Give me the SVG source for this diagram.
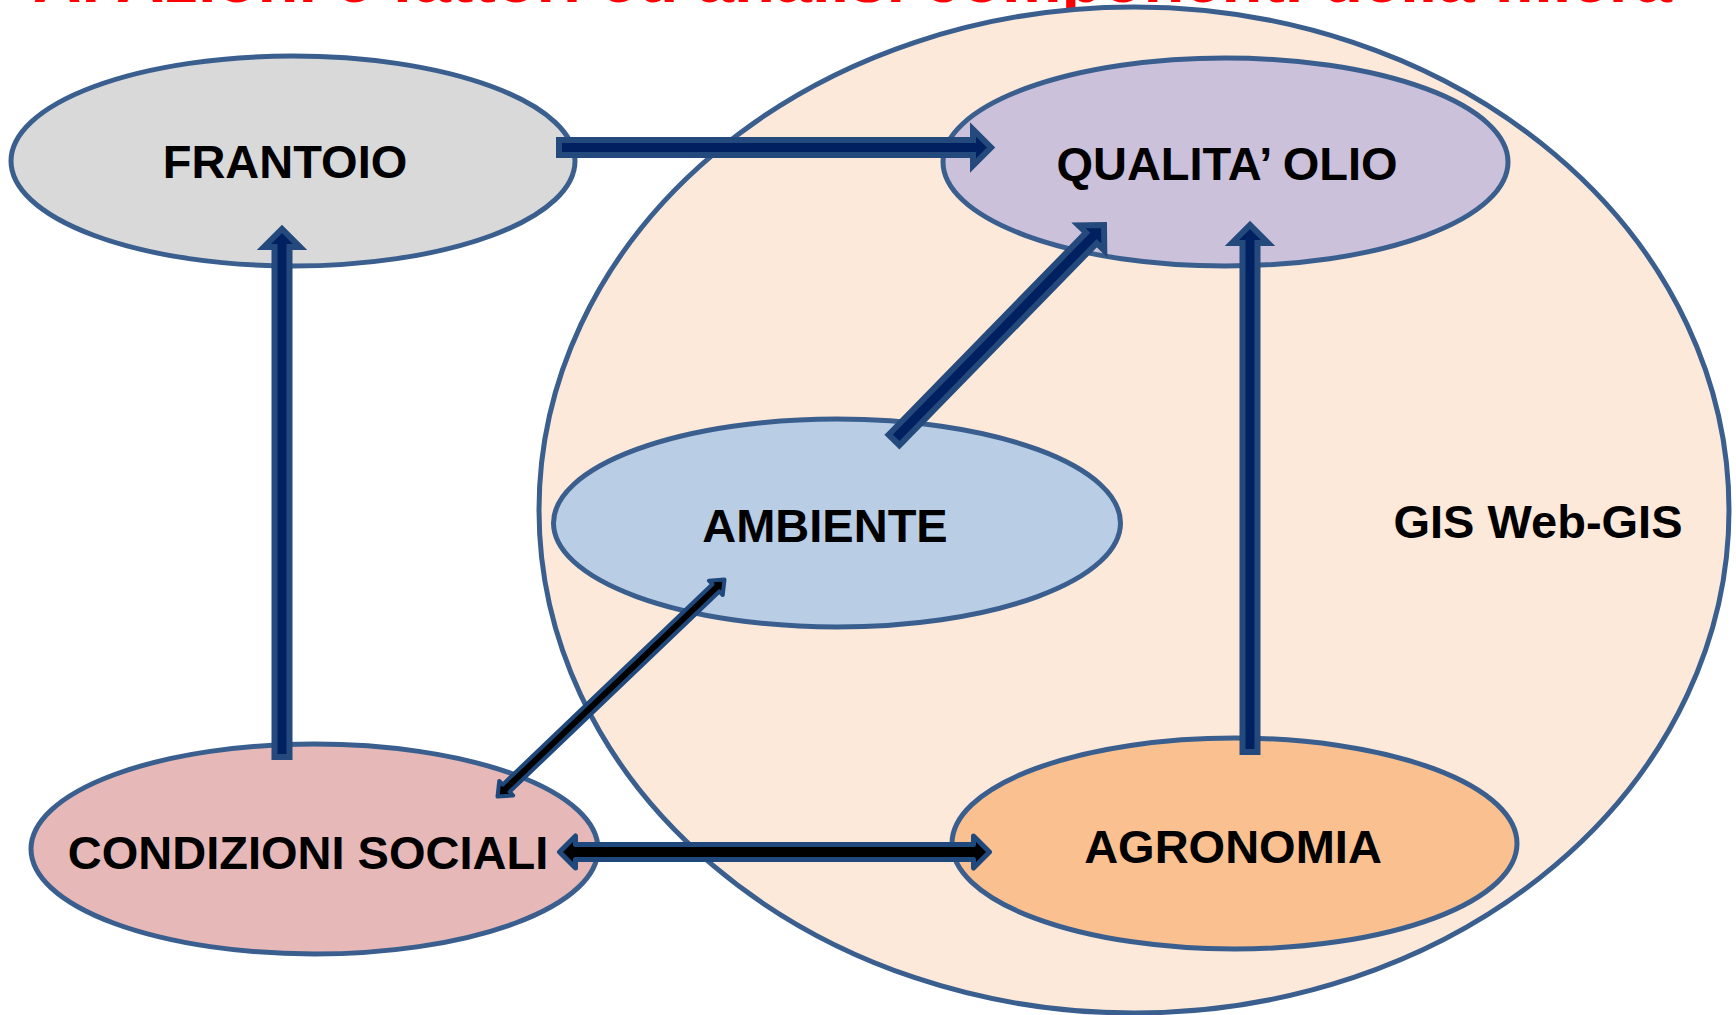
<svg xmlns="http://www.w3.org/2000/svg" width="1736" height="1015" viewBox="0 0 1736 1015">
<style>
.node{stroke:#3A5F8F;stroke-width:5}
.lbl{font-family:"Liberation Sans",Arial,sans-serif;font-weight:bold;font-size:47px;fill:#000;text-anchor:middle}
.blue{fill:#002060;stroke:#24497C;stroke-width:6;stroke-linejoin:miter}
.black{fill:#000;stroke:#1F497D;stroke-width:5;stroke-linejoin:round}
.black2{fill:#000;stroke:#1F497D;stroke-width:4;stroke-linejoin:round}
</style>
<rect width="1736" height="1015" fill="#FFFFFF"/>
<text x="33" y="2" textLength="1639" lengthAdjust="spacingAndGlyphs" style="font-family:'Liberation Sans',Arial,sans-serif;font-weight:bold;font-size:66px;fill:#FF0000">A. Azioni e fattori ed analisi componenti della filiera</text>
<g id="gis">
<ellipse cx="1134" cy="510" rx="595" ry="503" fill="#FDE9D9" class="node"/>
<text class="lbl" x="1538" y="538">GIS Web-GIS</text>
</g>
<g id="frantoio">
<ellipse cx="293" cy="161" rx="282" ry="105" fill="#D9D9D9" class="node"/>
<text class="lbl" x="285" y="178">FRANTOIO</text>
</g>
<g id="qualita">
<ellipse cx="1225.5" cy="162" rx="282.5" ry="104" fill="#CCC1DA" class="node"/>
<text class="lbl" x="1227" y="180">QUALITA’ OLIO</text>
</g>
<g id="ambiente">
<ellipse cx="837" cy="523" rx="283.5" ry="104" fill="#B9CDE5" class="node"/>
<text class="lbl" x="825" y="542">AMBIENTE</text>
</g>
<g id="condizioni">
<ellipse cx="314.5" cy="849" rx="283.5" ry="105" fill="#E6B9B8" class="node"/>
<text class="lbl" x="308" y="869">CONDIZIONI SOCIALI</text>
</g>
<g id="agronomia">
<ellipse cx="1234.5" cy="843.5" rx="282.5" ry="105.5" fill="#FAC090" class="node"/>
<text class="lbl" x="1233" y="863">AGRONOMIA</text>
</g>
<g id="connectors">
<polygon class="blue" transform="translate(559,147.5)" points="0,-7.5 414,-7.5 414,-18 432,0 414,18 414,7.5 0,7.5"/>
<polygon class="blue" transform="translate(282,757) rotate(-90)" points="0,-7.5 510,-7.5 510,-18 528,0 510,18 510,7.5 0,7.5"/>
<polygon class="blue" transform="translate(1250,752) rotate(-90)" points="0,-7.5 509,-7.5 509,-18 527,0 509,18 509,7.5 0,7.5"/>
<polygon class="blue" transform="translate(894,440) rotate(-45.67)" points="0,-7.5 282.5,-7.5 282.5,-18 300.5,0 282.5,18 282.5,7.5 0,7.5"/>
<polygon class="black" transform="translate(559.5,852)" points="0,0 16,-16 16,-7.5 414,-7.5 414,-16 430,0 414,16 414,7.5 16,7.5 16,16"/>
<polygon class="black2" transform="translate(497.5,796.5) rotate(-43.7)" points="0,0 12,-10 12,-5 302,-5 302,-10 314,0 302,10 302,5 12,5 12,10"/>
</g>
</svg>
